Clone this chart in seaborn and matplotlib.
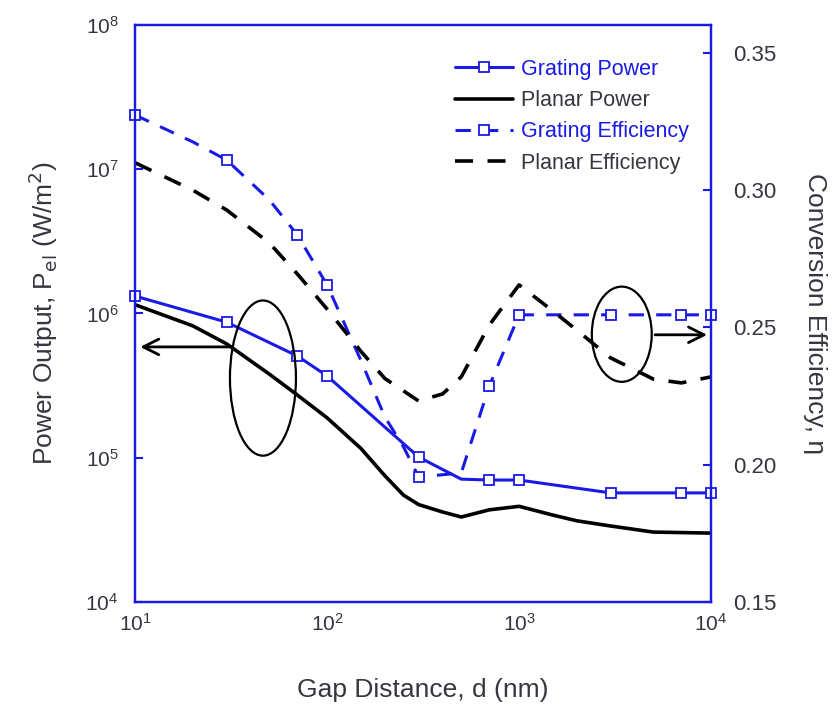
import matplotlib
matplotlib.use('Agg')
import matplotlib.pyplot as plt
from matplotlib.patches import Ellipse
from matplotlib.ticker import NullLocator
import seaborn as sns

# data
gap_gp = [10, 30, 70, 100, 300, 500, 700, 1000, 3000, 7000, 10000]
grating_power = [1.32e6, 8.7e5, 5.07e5, 3.69e5, 1.01e5, 7.1e4, 7.0e4, 7.0e4, 5.7e4, 5.7e4, 5.7e4]
gp_marks = [0, 1, 2, 3, 4, 6, 7, 8, 9, 10]

gap_pp = [10, 20, 30, 50, 70, 100, 150, 200, 250, 300, 400, 500, 700, 1000, 1500, 2000, 3000, 5000, 10000]
planar_power = [1.15e6, 8.2e5, 6.15e5, 3.8e5, 2.72e5, 1.89e5, 1.16e5, 7.5e4, 5.5e4, 4.73e4,
                4.2e4, 3.88e4, 4.35e4, 4.6e4, 4.0e4, 3.65e4, 3.36e4, 3.05e4, 3.0e4]

gap_ge = [10, 20, 30, 50, 70, 100, 150, 200, 250, 300, 500, 700, 1000, 3000, 7000, 10000]
grating_eff = [0.3274, 0.3176, 0.311, 0.2965, 0.2837, 0.2655, 0.238, 0.2174, 0.2065, 0.1955,
               0.197, 0.2287, 0.2546, 0.2546, 0.2546, 0.2546]
ge_marks = [0, 2, 4, 5, 9, 11, 12, 13, 14, 15]

gap_pe = [10, 20, 30, 50, 70, 100, 150, 200, 300, 400, 500, 700, 1000, 1500, 2000, 3000, 5000, 7000, 10000]
planar_eff = [0.310, 0.300, 0.2928, 0.2808, 0.2695, 0.2567, 0.2413, 0.2314, 0.2232, 0.2258,
              0.232, 0.2509, 0.2655, 0.256, 0.249, 0.2389, 0.2312, 0.2298, 0.232]

x_ticks = [10, 100, 1000, 10000]
left_ticks = [1e4, 1e5, 1e6, 1e7, 1e8]
right_ticks = [0.15, 0.20, 0.25, 0.30, 0.35]

sns.set_style('white')
plt.rcParams['font.family'] = ['Liberation Sans', 'DejaVu Sans']

blue = '#1a1ae6'
txt = '#3a3440'

fig = plt.figure(figsize=(8.39, 7.04), dpi=100)
ax = fig.add_axes([0.161, 0.145, 0.6865, 0.8195])
ax2 = ax.twinx()

sns.lineplot(x=gap_gp, y=grating_power, ax=ax, color=blue, lw=2.2, marker='s', clip_on=False,
             markevery=gp_marks, ms=7, mfc='white', mec=blue, mew=1.3, label='Grating Power', legend=False)
sns.lineplot(x=gap_pp, y=planar_power, ax=ax, color='black', lw=2.6, label='Planar Power', legend=False)
sns.lineplot(x=gap_ge, y=grating_eff, ax=ax2, color=blue, lw=2.2, linestyle=(0, (5, 4)), marker='s',
             clip_on=False, markevery=ge_marks, ms=7, mfc='white', mec=blue, mew=1.3,
             label='Grating Efficiency', legend=False)
sns.lineplot(x=gap_pe, y=planar_eff, ax=ax2, color='black', lw=2.6, linestyle=(0, (5, 4)),
             label='Planar Efficiency', legend=False)

ax.set_xscale('log')
ax.set_yscale('log')
ax.set_xlim(10, 10000)
ax.set_ylim(1e4, 1e8)
ax2.set_ylim(0.15, 0.3602)
ax.set_xticks(x_ticks)
ax.set_yticks(left_ticks)
ax2.set_yticks(right_ticks)
ax2.set_yticklabels([f'{v:.2f}' for v in right_ticks])
ax.xaxis.set_minor_locator(NullLocator())
ax.yaxis.set_minor_locator(NullLocator())

for a in (ax, ax2):
    for s in a.spines.values():
        s.set_color(blue)
        s.set_linewidth(1.6)
ax.tick_params(axis='x', length=0, pad=8, labelsize=15, labelcolor=txt)
ax.tick_params(axis='y', direction='in', length=6, width=1.5, color=blue, pad=12,
               labelsize=15, labelcolor=txt)
ax2.tick_params(axis='y', direction='in', length=6, width=1.5, color=blue, pad=16,
                labelsize=16, labelcolor=txt)

ax.set_xlabel('Gap Distance, d (nm)', fontsize=19, color=txt, labelpad=31)
ax.set_ylabel('Power Output, P$_{\\mathrm{el}}$ (W/m$^2$)', fontsize=19, color=txt, labelpad=18)
ax2.set_ylabel('Conversion Efficiency, \u03b7', fontsize=19, color=txt, rotation=270, labelpad=36)

# annotation ellipses and arrows
ax2.add_patch(Ellipse((0.222, 0.388), 0.1146, 0.269, transform=ax2.transAxes,
                      fill=False, ec='black', lw=1.6))
ax2.add_patch(Ellipse((0.845, 0.464), 0.104, 0.165, transform=ax2.transAxes,
                      fill=False, ec='black', lw=1.6))
ax2.annotate('', xy=(0.004, 0.442), xytext=(0.168, 0.442), xycoords='axes fraction',
             arrowprops=dict(arrowstyle='->', lw=2, color='black', mutation_scale=28))
ax2.annotate('', xy=(0.998, 0.463), xytext=(0.898, 0.463), xycoords='axes fraction',
             arrowprops=dict(arrowstyle='->', lw=2, color='black', mutation_scale=28))

handles = ax.get_lines() + ax2.get_lines()
leg = ax2.legend(handles=handles, labels=['Grating Power', 'Planar Power', 'Grating Efficiency', 'Planar Efficiency'],
                 loc='upper right', bbox_to_anchor=(0.995, 0.975), frameon=False, fontsize=15.5,
                 handlelength=2.7, handletextpad=0.35, labelspacing=0.48)
for t, c in zip(leg.get_texts(), [blue, txt, blue, txt]):
    t.set_color(c)

fig.savefig('out.png', dpi=100)
